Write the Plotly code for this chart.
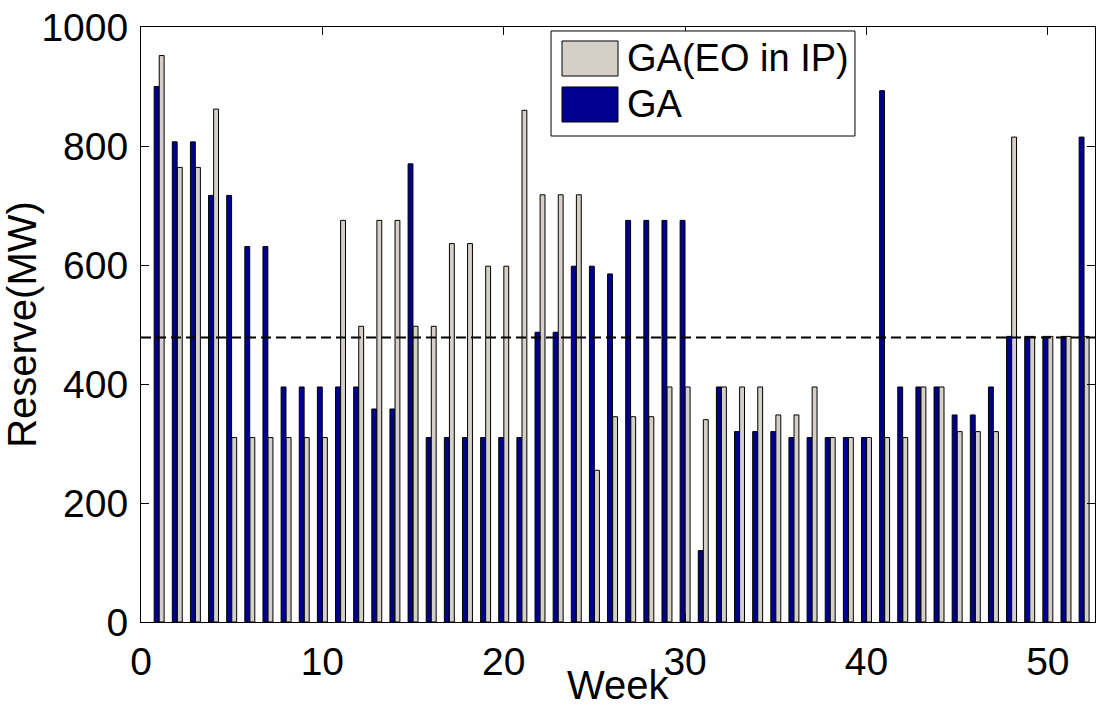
import plotly.graph_objects as go

weeks = list(range(1, 53))

ga = [900, 807, 807, 717, 717, 631, 631, 395, 395, 395,
      395, 395, 358, 358, 770, 310, 310, 310, 310, 310,
      310, 487, 487, 598, 598, 585, 675, 675, 675, 675,
      120, 395, 320, 320, 320, 310, 310, 310, 310, 310,
      893, 395, 395, 395, 348, 348, 395, 480, 480, 480,
      480, 815]

ga_eo = [952, 764, 764, 862, 310, 310, 310, 310, 310, 310,
         675, 497, 675, 675, 497, 497, 636, 636, 598, 598,
         860, 718, 718, 718, 255, 345, 345, 345, 395, 395,
         340, 395, 395, 395, 348, 348, 395, 310, 310, 310,
         310, 310, 395, 395, 320, 320, 320, 815, 480, 480,
         480, 480]

reserve_req = 478

x_ticks = [0, 10, 20, 30, 40, 50]
y_ticks = [0, 200, 400, 600, 800, 1000]

series_names = ["GA(EO in IP)", "GA"]
series_colors = ["#D4D0C8", "#00008F"]

FONT = "Arial, Liberation Sans, sans-serif"
FS_TICK = 39
FS_TITLE = 40
FS_LEG = 38

fig = go.Figure()
fig.add_trace(go.Bar(x=weeks, y=ga, name=series_names[1], showlegend=False,
                     marker=dict(color=series_colors[1], line=dict(color="black", width=1))))
fig.add_trace(go.Bar(x=weeks, y=ga_eo, name=series_names[0], showlegend=False,
                     marker=dict(color=series_colors[0], line=dict(color="black", width=1))))

fig.add_hline(y=reserve_req, line=dict(color="black", width=2, dash="10px,5px"))

axis_common = dict(
    showline=True, linecolor="black", linewidth=1, mirror="ticks",
    ticks="inside", ticklen=8, tickcolor="black",
    showgrid=False, zeroline=False,
    tickfont=dict(family=FONT, size=FS_TICK, color="black"),
)

fig.update_xaxes(range=[0, 52.6], tickvals=x_ticks, ticklabelstandoff=5, **axis_common)
fig.update_yaxes(range=[0, 1000], tickvals=y_ticks, ticklabelstandoff=4,
                 title=dict(text="Reserve(MW)", font=dict(family=FONT, size=FS_TITLE, color="black"),
                            standoff=0),
                 **axis_common)

# x-axis title placed like the reference (close under the tick labels)
fig.add_annotation(text="Week", xref="paper", yref="paper", x=0.5, y=0,
                   xanchor="center", yanchor="middle", yshift=-63, showarrow=False,
                   font=dict(family=FONT, size=FS_TITLE, color="black"))

# legend drawn as a boxed key with large swatches, as in the reference
L_X0, L_X1, L_Y0, L_Y1 = 0.4298, 0.7484, 0.8168, 0.9933
SW_X0, SW_X1 = 0.4413, 0.5000
rows_y = [(0.9176, 0.9765), (0.8403, 0.8992)]
text_y = [0.948, 0.8706]

fig.add_shape(type="rect", xref="paper", yref="paper", x0=L_X0, x1=L_X1, y0=L_Y0, y1=L_Y1,
              line=dict(color="black", width=1), fillcolor="white", layer="above")
for (y0, y1), ty, name, col in zip(rows_y, text_y, series_names, series_colors):
    fig.add_shape(type="rect", xref="paper", yref="paper", x0=SW_X0, x1=SW_X1, y0=y0, y1=y1,
                  line=dict(color="black", width=1), fillcolor=col, layer="above")
    fig.add_annotation(text=name, xref="paper", yref="paper", x=0.5073, y=ty,
                       xanchor="left", yanchor="middle", showarrow=False,
                       font=dict(family=FONT, size=FS_LEG, color="black"))

fig.update_layout(
    width=1100, height=706,
    margin=dict(l=141, r=5, t=27, b=84),
    plot_bgcolor="white", paper_bgcolor="white",
    barmode="group", bargap=0.44, bargroupgap=0.04,
    font=dict(family=FONT, color="black"),
    showlegend=False,
)

fig.write_html("out.html")
